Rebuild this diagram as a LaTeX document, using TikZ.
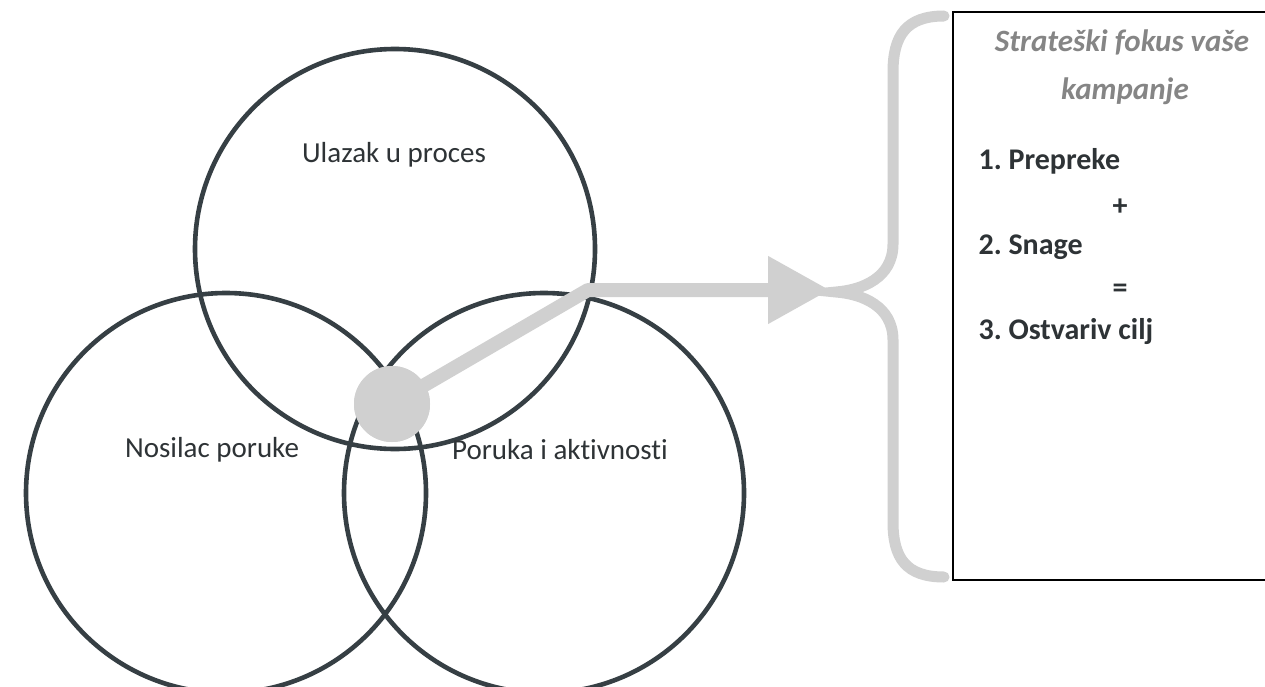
\documentclass[tikz,border=0pt]{standalone}
\usepackage{fontspec}
\setmainfont{Carlito}[Ligatures=NoCommon]
\usetikzlibrary{arrows.meta}
\definecolor{ring}{HTML}{363F44}
\definecolor{pale}{HTML}{D0D0D0}
\definecolor{titlegray}{HTML}{858585}
\definecolor{ink}{HTML}{2E3336}
\frenchspacing
\begin{document}
\begin{tikzpicture}[x=1pt,y=-1pt,
  venn/.style={circle, draw=ring, line width=4.6pt, minimum size=400pt, inner sep=0pt},
  vennlabel/.style={font=\fontsize{29}{34}\selectfont, text=ink, anchor=base},
  pointer/.style={draw=pale, line width=14pt, line join=round,
    -{Triangle[length=62pt, width=64pt, fill=pale]}},
  hubdot/.style={circle, fill=pale, minimum size=76pt, inner sep=0pt},
  bracestroke/.style={draw=pale, line width=11pt, line cap=round},
  focusbox/.style={minimum width=420pt, minimum height=568pt, anchor=north west,
    inner sep=0pt, outer sep=0pt},
  boxline/.style={draw=black, line width=1.8pt},
  titletext/.style={font=\fontsize{31}{36}\selectfont\bfseries\itshape,
    text=titlegray, anchor=base},
  itemtext/.style={font=\fontsize{30}{36}\selectfont\bfseries, text=ink, anchor=base west},
  signtext/.style={font=\fontsize{30}{36}\selectfont\bfseries, text=ink}]
\useasboundingbox (0,0) rectangle (1265,687);
\clip (0,0) rectangle (1265,687);
\fill[white] (0,0) rectangle (1265,687);

% three overlapping circles
\node[venn] (ulaz) at (395,249) {};
\node[venn] (nosilac) at (226,493) {};
\node[venn] (poruka) at (544,493) {};

\node[vennlabel] (lulaz) at (394,163) {Ulazak u proces};
\node[vennlabel] (lnosilac) at (212,457) {Nosilac poruke};
\node[vennlabel] (lporuka) at (560,459) {Poruka i aktivnosti};

% pointer from the common centre to the brace
\coordinate (bend) at (588,290);
\coordinate (tip) at (830,290);
\node[hubdot] (hub) at (392,404) {};
\draw[pointer] (hub.center) -- (bend) -- (tip);
\node[hubdot] at (hub) {};

% curly brace
\coordinate (btop) at (944,16);
\coordinate (bmid) at (836,292);
\coordinate (bbot) at (944,577);
\draw[bracestroke] (btop) .. controls (906,16) and (893,36) .. (893,72)
  -- (893,244) .. controls (893,278) and (862,290) .. (bmid)
  .. controls (862,294) and (893,306) .. (893,340)
  -- (893,522) .. controls (893,558) and (906,577) .. (bbot);

% focus box, open on the right where it leaves the page
\node[focusbox] (focus) at (953,12) {};
\draw[boxline] (focus.north east) -- (focus.north west)
  -- (focus.south west) -- (focus.south east);
\node[titletext] (t1) at (1122,52) {Strateški fokus vaše};
\node[titletext] (t2) at (1125,100) {kampanje};
\node[itemtext] (i1) at (975,170) {1. Prepreke};
\node[signtext] (plus) at (1120,207) {+};
\node[itemtext] (i2) at (975,254) {2. Snage};
\node[signtext] (eq) at (1120,291) {=};
\node[itemtext] (i3) at (975,339) {3. Ostvariv cilj};
\end{tikzpicture}
\end{document}
